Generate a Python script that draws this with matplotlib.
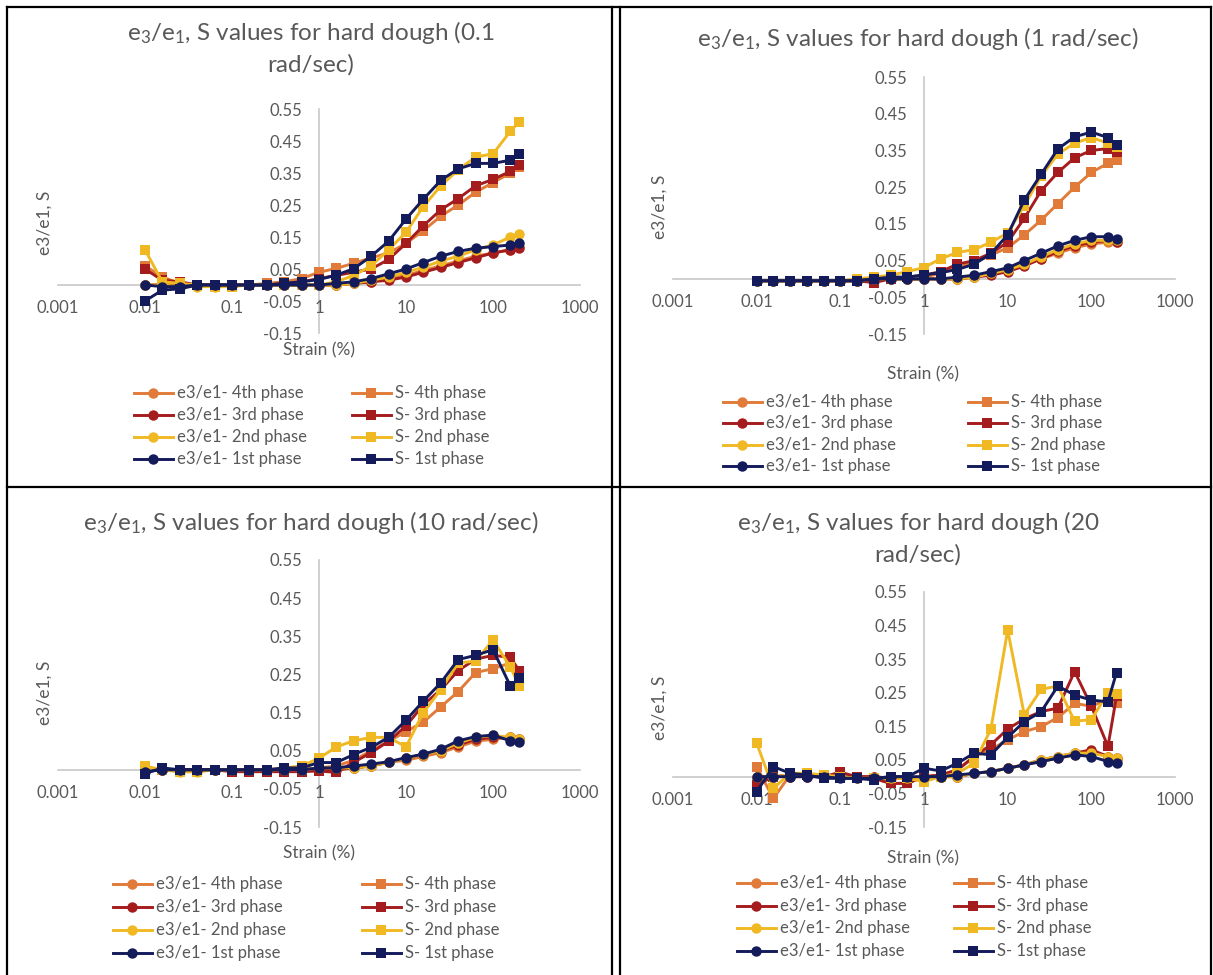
import matplotlib
matplotlib.use("Agg")
import matplotlib.pyplot as plt
from matplotlib.lines import Line2D

plt.rcParams["font.family"] = ["Lato", "DejaVu Sans"]
plt.rcParams["mathtext.default"] = "regular"
plt.rcParams["axes.unicode_minus"] = False

# strain amplitude (%) of the sweep, shared by all four frequencies
strain = [0.01, 0.0158, 0.0251, 0.0398, 0.0631, 0.1, 0.158, 0.251, 0.398, 0.631,
          1.0, 1.58, 2.51, 3.98, 6.31, 10.0, 15.8, 25.1, 39.8, 63.1, 100.0, 158.0, 200.0]

x_ticks = [0.001, 0.01, 0.1, 1, 10, 100, 1000]
x_tick_labels = ["0.001", "0.01", "0.1", "1", "10", "100", "1000"]
y_ticks = [-0.15, -0.05, 0.05, 0.15, 0.25, 0.35, 0.45, 0.55]

freq_labels = ["0.1 rad/sec", "1 rad/sec", "10 rad/sec", "20 rad/sec"]

# ---- 0.1 rad/sec ----
e4_01 = [0.0, 0.0, 0.0, 0.0, 0.0, 0.0, 0.0, 0.0, 0.0, 0.0, 0.0, 0.0, 0.005, 0.01, 0.02, 0.03, 0.045, 0.06, 0.075, 0.09, 0.1, 0.11, 0.12]
s4_01 = [0.06, 0.025, 0.005, 0.0, 0.0, 0.0, 0.0, 0.005, 0.01, 0.02, 0.04, 0.052, 0.068, 0.085, 0.1, 0.13, 0.17, 0.215, 0.25, 0.29, 0.32, 0.35, 0.37]
e3_01 = [0.0, 0.0, 0.0, 0.0, 0.0, 0.0, 0.0, 0.0, 0.0, 0.0, 0.0, 0.0, 0.005, 0.01, 0.015, 0.025, 0.04, 0.055, 0.07, 0.085, 0.1, 0.11, 0.115]
s3_01 = [0.05, 0.015, 0.01, 0.0, 0.0, 0.0, 0.0, 0.0, 0.005, 0.01, 0.02, 0.03, 0.04, 0.05, 0.08, 0.13, 0.185, 0.235, 0.27, 0.31, 0.33, 0.355, 0.375]
e2_01 = [0.0, 0.0, -0.005, -0.005, -0.005, 0.0, 0.0, 0.0, 0.0, 0.0, 0.0, 0.0, 0.005, 0.015, 0.025, 0.04, 0.055, 0.075, 0.09, 0.11, 0.125, 0.15, 0.16]
s2_01 = [0.11, 0.01, 0.005, 0.0, -0.005, -0.005, 0.0, 0.0, 0.0, 0.0, 0.0, 0.01, 0.03, 0.06, 0.11, 0.165, 0.245, 0.31, 0.36, 0.40, 0.41, 0.48, 0.51]
e1_01 = [0.0, -0.005, -0.005, 0.0, 0.0, 0.0, 0.0, 0.0, 0.0, 0.0, 0.0, 0.005, 0.01, 0.02, 0.035, 0.05, 0.07, 0.09, 0.105, 0.115, 0.12, 0.125, 0.13]
s1_01 = [-0.05, -0.016, -0.012, 0.0, 0.0, 0.0, 0.0, 0.0, 0.005, 0.01, 0.017, 0.031, 0.051, 0.09, 0.137, 0.206, 0.268, 0.327, 0.363, 0.38, 0.38, 0.39, 0.41]

# ---- 1 rad/sec ----
e4_1 = [-0.005, -0.005, -0.005, -0.005, -0.005, -0.005, -0.005, 0.0, 0.0, 0.0, 0.0, 0.0, 0.0, 0.005, 0.015, 0.025, 0.04, 0.055, 0.07, 0.085, 0.095, 0.1, 0.1]
s4_1 = [-0.005, -0.005, -0.005, -0.005, -0.005, -0.005, -0.005, 0.0, 0.0, 0.005, 0.005, 0.015, 0.03, 0.045, 0.065, 0.085, 0.12, 0.16, 0.205, 0.25, 0.29, 0.315, 0.325]
e3_1 = [-0.005, -0.005, -0.005, -0.005, -0.005, -0.005, -0.005, -0.005, 0.0, 0.0, 0.0, 0.0, 0.0, 0.005, 0.01, 0.02, 0.035, 0.055, 0.075, 0.09, 0.1, 0.105, 0.1]
s3_1 = [-0.005, -0.005, -0.005, -0.005, -0.005, -0.005, -0.005, -0.01, 0.0, 0.005, 0.01, 0.02, 0.04, 0.05, 0.07, 0.1, 0.165, 0.24, 0.29, 0.33, 0.35, 0.355, 0.345]
e2_1 = [-0.005, -0.005, -0.005, -0.005, -0.005, -0.005, -0.005, 0.0, 0.0, 0.0, 0.0, 0.0, 0.0, 0.005, 0.015, 0.025, 0.04, 0.06, 0.08, 0.095, 0.105, 0.105, 0.105]
s2_1 = [-0.005, -0.005, -0.005, -0.005, -0.005, -0.005, 0.0, 0.005, 0.01, 0.02, 0.031, 0.055, 0.072, 0.08, 0.1, 0.125, 0.2, 0.28, 0.34, 0.37, 0.385, 0.37, 0.36]
e1_1 = [-0.005, -0.005, -0.005, -0.005, -0.005, -0.005, -0.005, 0.0, 0.0, 0.0, 0.0, 0.0, 0.005, 0.01, 0.02, 0.03, 0.05, 0.07, 0.09, 0.105, 0.115, 0.115, 0.11]
s1_1 = [-0.005, -0.005, -0.005, -0.005, -0.005, -0.005, -0.005, 0.0, 0.005, 0.005, 0.011, 0.017, 0.026, 0.04, 0.069, 0.12, 0.215, 0.285, 0.354, 0.387, 0.40, 0.385, 0.365]

# ---- 10 rad/sec ----
e4_10 = [0.0, 0.0, 0.0, 0.0, 0.0, 0.0, 0.0, 0.0, 0.0, 0.0, 0.0, 0.0, 0.005, 0.01, 0.02, 0.025, 0.035, 0.045, 0.06, 0.075, 0.08, 0.085, 0.08]
s4_10 = [0.0, 0.0, 0.0, 0.0, 0.0, 0.0, 0.0, 0.0, 0.0, 0.0, 0.005, 0.01, 0.025, 0.05, 0.075, 0.1, 0.125, 0.165, 0.205, 0.255, 0.265, 0.28, 0.25]
e3_10 = [0.0, 0.0, 0.0, 0.0, 0.0, 0.0, 0.0, 0.0, 0.0, 0.0, 0.0, 0.0, 0.005, 0.01, 0.02, 0.03, 0.04, 0.05, 0.065, 0.08, 0.085, 0.085, 0.08]
s3_10 = [0.0, 0.0, 0.0, 0.0, 0.0, -0.005, -0.005, -0.005, -0.005, -0.005, -0.003, -0.007, 0.02, 0.045, 0.075, 0.115, 0.17, 0.21, 0.26, 0.29, 0.30, 0.295, 0.26]
e2_10 = [0.005, 0.0, -0.005, -0.005, 0.0, 0.0, 0.0, 0.0, 0.0, 0.0, 0.005, 0.005, 0.005, 0.01, 0.02, 0.03, 0.04, 0.05, 0.07, 0.085, 0.09, 0.085, 0.08]
s2_10 = [0.01, 0.0, -0.005, -0.005, 0.0, 0.0, 0.0, 0.0, 0.005, 0.01, 0.03, 0.06, 0.076, 0.085, 0.085, 0.06, 0.15, 0.21, 0.28, 0.285, 0.34, 0.27, 0.22]
e1_10 = [-0.005, 0.0, 0.0, 0.0, 0.0, 0.0, 0.0, 0.0, 0.0, 0.0, 0.005, 0.005, 0.01, 0.015, 0.021, 0.032, 0.041, 0.054, 0.076, 0.087, 0.091, 0.076, 0.072]
s1_10 = [-0.01, 0.005, 0.0, 0.0, 0.0, 0.0, 0.0, 0.0, 0.005, 0.005, 0.019, 0.019, 0.04, 0.059, 0.085, 0.13, 0.18, 0.228, 0.289, 0.30, 0.315, 0.22, 0.24]

# ---- 20 rad/sec ----
e4_20 = [0.0, 0.0, 0.0, 0.0, 0.0, 0.0, 0.0, 0.0, -0.005, -0.005, -0.005, 0.0, 0.0, 0.01, 0.015, 0.025, 0.035, 0.045, 0.055, 0.065, 0.075, 0.06, 0.05]
s4_20 = [0.03, -0.065, 0.005, 0.005, 0.0, 0.0, 0.0, -0.005, -0.02, -0.02, 0.0, 0.005, 0.02, 0.06, 0.08, 0.11, 0.134, 0.149, 0.176, 0.218, 0.21, 0.23, 0.22]
e3_20 = [0.0, 0.0, 0.0, 0.0, 0.0, 0.0, 0.0, 0.0, -0.005, -0.005, -0.005, 0.0, 0.0, 0.01, 0.015, 0.025, 0.035, 0.05, 0.06, 0.07, 0.08, 0.06, 0.055]
s3_20 = [-0.025, 0.0, 0.005, 0.005, 0.0, 0.013, 0.0, -0.005, -0.02, -0.02, 0.0, 0.005, 0.02, 0.06, 0.095, 0.142, 0.172, 0.194, 0.204, 0.313, 0.21, 0.09, 0.24]
e2_20 = [0.0, 0.0, 0.005, 0.005, 0.0, 0.0, -0.005, -0.005, -0.005, -0.005, -0.005, 0.0, 0.0, 0.01, 0.015, 0.025, 0.035, 0.05, 0.06, 0.07, 0.07, 0.06, 0.055]
s2_20 = [0.10, -0.035, 0.01, 0.01, 0.005, 0.0, -0.005, -0.005, -0.005, -0.005, -0.015, 0.0, 0.01, 0.04, 0.142, 0.437, 0.184, 0.26, 0.27, 0.165, 0.17, 0.25, 0.245]
e1_20 = [0.0, 0.0, 0.0, 0.0, 0.0, -0.005, -0.005, -0.005, 0.0, 0.0, 0.0, 0.0, 0.005, 0.01, 0.015, 0.025, 0.035, 0.045, 0.055, 0.065, 0.06, 0.045, 0.04]
s1_20 = [-0.045, 0.03, 0.01, 0.005, -0.005, -0.005, -0.005, -0.01, 0.0, 0.0, 0.025, 0.017, 0.04, 0.07, 0.065, 0.117, 0.164, 0.193, 0.27, 0.243, 0.228, 0.223, 0.31]

panel_data = [
    [e4_01, s4_01, e3_01, s3_01, e2_01, s2_01, e1_01, s1_01],
    [e4_1, s4_1, e3_1, s3_1, e2_1, s2_1, e1_1, s1_1],
    [e4_10, s4_10, e3_10, s3_10, e2_10, s2_10, e1_10, s1_10],
    [e4_20, s4_20, e3_20, s3_20, e2_20, s2_20, e1_20, s1_20],
]

series_names = ["e3/e1- 4th phase", "S- 4th phase", "e3/e1- 3rd phase", "S- 3rd phase",
                "e3/e1- 2nd phase", "S- 2nd phase", "e3/e1- 1st phase", "S- 1st phase"]
phase_colors = ["#E07B39", "#E07B39", "#A51C1E", "#A51C1E",
                "#F0B823", "#F0B823", "#141B5A", "#141B5A"]
markers = ["o", "s"] * 4

TXT = "#595959"
AXIS = "#C8C8C8"
W, H = 1213, 975

fig = plt.figure(figsize=(W / 100, H / 100), dpi=100)
fig.patch.set_facecolor("white")


def fx(x):
    return x / W


def fy(y):
    return 1 - y / H


# pixel layout of each chart: plot box, title, axis labels, legend
layouts = [
    dict(box=(58, 580, 109, 333), title_x=311, title_y=[33, 65], wrap=True,
         ylab=(45, 223), xlab=(319, 350), leg_y=[393, 415, 437, 459], leg_x=[134, 352]),
    dict(box=(673, 1175, 77, 334), title_x=918, title_y=[39], wrap=False,
         ylab=(660, 207), xlab=(923, 374), leg_y=[402, 423, 445, 466], leg_x=[723, 968]),
    dict(box=(58, 580, 560, 827), title_x=311, title_y=[522], wrap=False,
         ylab=(45, 693), xlab=(319, 853), leg_y=[884, 907, 930, 953], leg_x=[113, 362]),
    dict(box=(673, 1175, 592, 827), title_x=918, title_y=[522, 555], wrap=True,
         ylab=(660, 708), xlab=(923, 858), leg_y=[883, 906, 928, 951], leg_x=[737, 954]),
]

for lay, data, freq in zip(layouts, panel_data, freq_labels):
    l, r, t, b = lay["box"]
    ax = fig.add_axes([fx(l), fy(b), fx(r) - fx(l), fy(t) - fy(b)])
    ax.set_xscale("log")
    ax.set_xlim(0.001, 1000)
    ax.set_ylim(-0.15, 0.55)
    ax.patch.set_alpha(0)

    for vals, col, mk in zip(data, phase_colors, markers):
        ax.plot(strain, vals, color=col, marker=mk, lw=2.1, ms=7.5,
                markeredgewidth=0, clip_on=False, zorder=3)

    for side in ["top", "right"]:
        ax.spines[side].set_visible(False)
    ax.spines["left"].set_position(("data", 1))
    ax.spines["bottom"].set_position(("data", 0))
    for side in ["left", "bottom"]:
        ax.spines[side].set_color(AXIS)
        ax.spines[side].set_linewidth(1.2)
        ax.spines[side].set_zorder(1)

    ax.set_xticks(x_ticks)
    ax.set_xticklabels(x_tick_labels)
    ax.xaxis.set_minor_locator(matplotlib.ticker.NullLocator())
    ax.set_yticks(y_ticks)
    ax.set_yticklabels([f"{v:.2f}" for v in y_ticks])
    ax.tick_params(axis="both", length=0, labelsize=12, labelcolor=TXT)
    ax.tick_params(axis="x", pad=11)
    ax.tick_params(axis="y", pad=12)

    # chart title, wrapped onto two lines where it ran long
    head = r"e$_3$/e$_1$, S values for hard dough ("
    if lay["wrap"]:
        num, unit = freq.split(" ")
        lines = [head + num, unit + ")"]
    else:
        lines = [head + freq + ")"]
    for txt, ty in zip(lines, lay["title_y"]):
        fig.text(fx(lay["title_x"]), fy(ty), txt, ha="center", va="center",
                 fontsize=17.5, color=TXT)

    fig.text(fx(lay["ylab"][0]), fy(lay["ylab"][1]), "e3/e1, S", rotation=90,
             ha="center", va="center", fontsize=12.5, color=TXT)
    fig.text(fx(lay["xlab"][0]), fy(lay["xlab"][1]), "Strain (%)",
             ha="center", va="center", fontsize=12.5, color=TXT)

    # two-column legend: e3/e1 series on the left, S series on the right
    for k, (name, col, mk) in enumerate(zip(series_names, phase_colors, markers)):
        row = k // 2
        cx = lay["leg_x"][k % 2]
        ly = fy(lay["leg_y"][row])
        fig.add_artist(Line2D([fx(cx), fx(cx + 19), fx(cx + 39)], [ly, ly, ly],
                              color=col, lw=2.1, marker=mk, ms=7.5, markeredgewidth=0,
                              markevery=[1], transform=fig.transFigure))
        fig.text(fx(cx + 43), ly, name, ha="left", va="center", fontsize=12, color=TXT)

# black frame around the four charts
frame = [((7, 1211), (7, 7)), ((7, 7), (7, 975)), ((7, 1211), (487, 487)),
         ((612, 612), (7, 975)), ((620, 620), (7, 975)), ((1211, 1211), (7, 975))]
for xs, ys in frame:
    fig.add_artist(Line2D([fx(xs[0]), fx(xs[1])], [fy(ys[0]), fy(ys[1])],
                          color="black", lw=1.6, transform=fig.transFigure))

fig.savefig("out.png", dpi=100)
